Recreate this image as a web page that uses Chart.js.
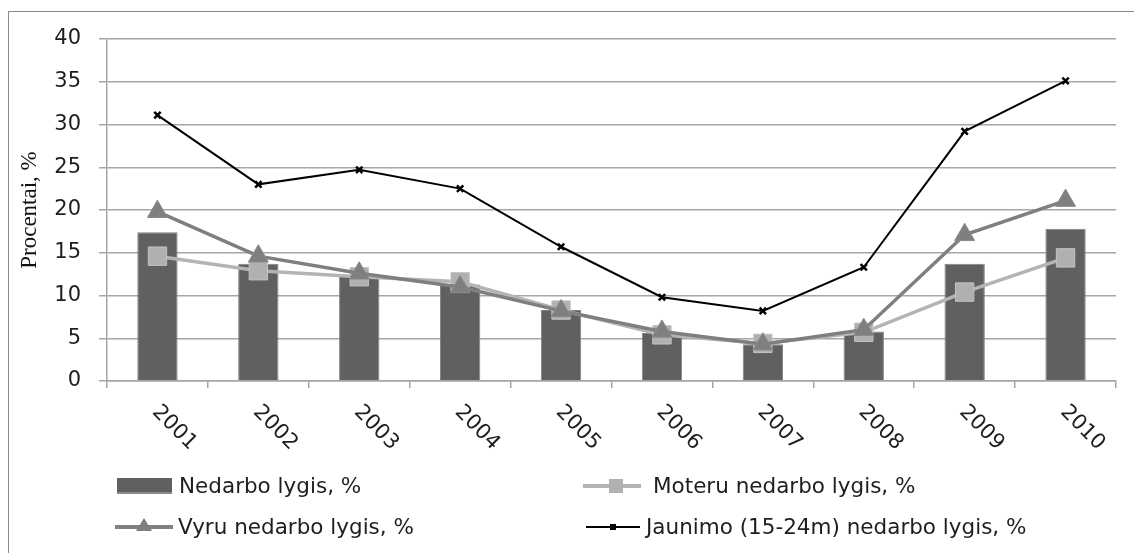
<!DOCTYPE html>
<html>
<head>
<meta charset="utf-8">
<script src="https://cdn.jsdelivr.net/npm/chart.js@4"></script>
<style>
  body { margin: 0; background: #fff; }
  #wrap { position: relative; width: 1134px; height: 553px; overflow: hidden; background: #fff; }
  #frame { position: absolute; left: 8px; top: 11px; right: -5px; bottom: -5px; border-left: 1px solid #8a8a8a; border-top: 1px solid #8a8a8a; }
  canvas { position: absolute; left: 0; top: 0; }
  .leg { position: absolute; font-family: "DejaVu Sans", sans-serif; font-size: 21.5px; color: #1e1e1e; white-space: nowrap; line-height: 24px; }
  .mk { position: absolute; }
</style>
</head>
<body>
<div id="wrap">
  <div id="frame"></div>
  <canvas id="chart" width="1134" height="553"></canvas>

  <!-- legend, two columns -->
  <div class="mk" style="left:117px; top:478px; width:55px; height:14px; background:#606060; border-bottom:2px solid #8a8a8a;"></div>
  <div class="leg" style="left:179px; top:474px;">Nedarbo lygis, %</div>

  <div class="mk" style="left:583px; top:484px; width:58px; height:4px; background:#b4b4b4;"></div>
  <div class="mk" style="left:609px; top:479px; width:14px; height:14px; background:#b0b0b0;"></div>
  <div class="leg" style="left:653px; top:474px;">Moteru nedarbo lygis, %</div>

  <div class="mk" style="left:115px; top:525px; width:58px; height:4px; background:#7f7f7f;"></div>
  <div class="mk" style="left:136px; top:518px; width:0; height:0; border-left:8px solid transparent; border-right:8px solid transparent; border-bottom:13px solid #7f7f7f;"></div>
  <div class="leg" style="left:178px; top:515px;">Vyru nedarbo lygis, %</div>

  <div class="mk" style="left:586px; top:526px; width:54px; height:2px; background:#000;"></div>
  <div class="mk" style="left:610px; top:524px; width:6px; height:6px; background:#000;"></div>
  <div class="leg" style="left:646px; top:515px;">Jaunimo (15-24m) nedarbo lygis, %</div>
</div>

<script>
// categories
const years = ['2001', '2002', '2003', '2004', '2005', '2006', '2007', '2008', '2009', '2010'];

// series values, %
const total = [17.4, 13.7, 12.4, 11.3, 8.3, 5.6, 4.3, 5.8, 13.7, 17.8];
const women = [14.6, 12.9, 12.2, 11.6, 8.3, 5.4, 4.4, 5.7, 10.4, 14.4];
const men = [19.8, 14.6, 12.6, 11.0, 8.2, 5.8, 4.3, 6.0, 17.1, 21.1];
const youth = [31.1, 23.0, 24.7, 22.5, 15.7, 9.8, 8.2, 13.3, 29.2, 35.1];

// y ticks
const yMin = 0;
const yMax = 40;
const yStep = 5;

const labels = ['Nedarbo lygis, %', 'Moteru nedarbo lygis, %', 'Vyru nedarbo lygis, %', 'Jaunimo (15-24m) nedarbo lygis, %'];

// years are written sloping down to the right, which the axis can't do itself
const slantedYears = {
  id: 'slantedYears',
  afterDraw(chart) {
    const scale = chart.scales.x;
    const ctx = chart.ctx;
    ctx.save();
    ctx.font = '21px "DejaVu Sans"';
    ctx.fillStyle = '#1e1e1e';
    ctx.textAlign = 'left';
    ctx.textBaseline = 'middle';
    years.forEach(function(y, i) {
      const px = scale.getPixelForValue(i);
      ctx.save();
      ctx.translate(px - 2, scale.top + 28);
      ctx.rotate(Math.PI / 4);
      ctx.fillText(y, 0, 0);
      ctx.restore();
    });
    ctx.restore();
  }
};

new Chart(document.getElementById('chart'), {
  type: 'bar',
  data: {
    labels: years,
    datasets: [
      {
        type: 'line',
        label: labels[3],
        data: youth,
        borderColor: '#000',
        borderWidth: 2,
        pointStyle: 'crossRot',
        pointRadius: 4.5,
        pointBorderWidth: 2.5,
        pointBorderColor: '#000',
        pointBackgroundColor: '#000',
        tension: 0,
        order: 1
      },
      {
        type: 'line',
        label: labels[2],
        data: men,
        borderColor: '#7f7f7f',
        borderWidth: 3.5,
        pointStyle: 'triangle',
        pointRadius: 11.5,
        pointBorderWidth: 1,
        pointBorderColor: '#8a8a8a',
        pointBackgroundColor: '#7f7f7f',
        tension: 0,
        order: 2
      },
      {
        type: 'line',
        label: labels[1],
        data: women,
        borderColor: '#b4b4b4',
        borderWidth: 3.5,
        pointStyle: 'rect',
        pointRadius: 13,
        pointBorderWidth: 1,
        pointBorderColor: '#c4c4c4',
        pointBackgroundColor: '#b0b0b0',
        tension: 0,
        order: 3
      },
      {
        type: 'bar',
        label: labels[0],
        data: total,
        backgroundColor: '#606060',
        borderColor: '#828282',
        borderWidth: 1,
        barPercentage: 0.4,
        categoryPercentage: 1,
        order: 4
      }
    ]
  },
  options: {
    responsive: false,
    animation: false,
    layout: { padding: { left: 0, top: 39, right: 18, bottom: 0 } },
    plugins: {
      legend: { display: false },
      tooltip: { enabled: false }
    },
    scales: {
      x: {
        offset: true,
        afterFit: function(s) { s.height = 172; },
        grid: {
          offset: true,
          drawOnChartArea: false,
          drawTicks: true,
          tickLength: 7,
          color: '#a6a6a6',
          lineWidth: 1.5
        },
        border: { display: true, color: '#a6a6a6', width: 1.5 },
        ticks: { display: false }
      },
      y: {
        min: yMin,
        max: yMax,
        afterFit: function(s) { s.width = 107; },
        ticks: {
          stepSize: yStep,
          padding: 18,
          color: '#1e1e1e',
          font: { family: 'DejaVu Sans', size: 21 }
        },
        grid: {
          color: '#a6a6a6',
          lineWidth: 1.5,
          tickLength: 8
        },
        border: { display: true, color: '#a6a6a6', width: 1.5 },
        title: {
          display: true,
          text: 'Procentai, %',
          color: '#111',
          font: { family: 'Liberation Serif', size: 23 },
          padding: { top: 16, bottom: 0 }
        }
      }
    }
  },
  plugins: [slantedYears]
});
</script>
</body>
</html>
